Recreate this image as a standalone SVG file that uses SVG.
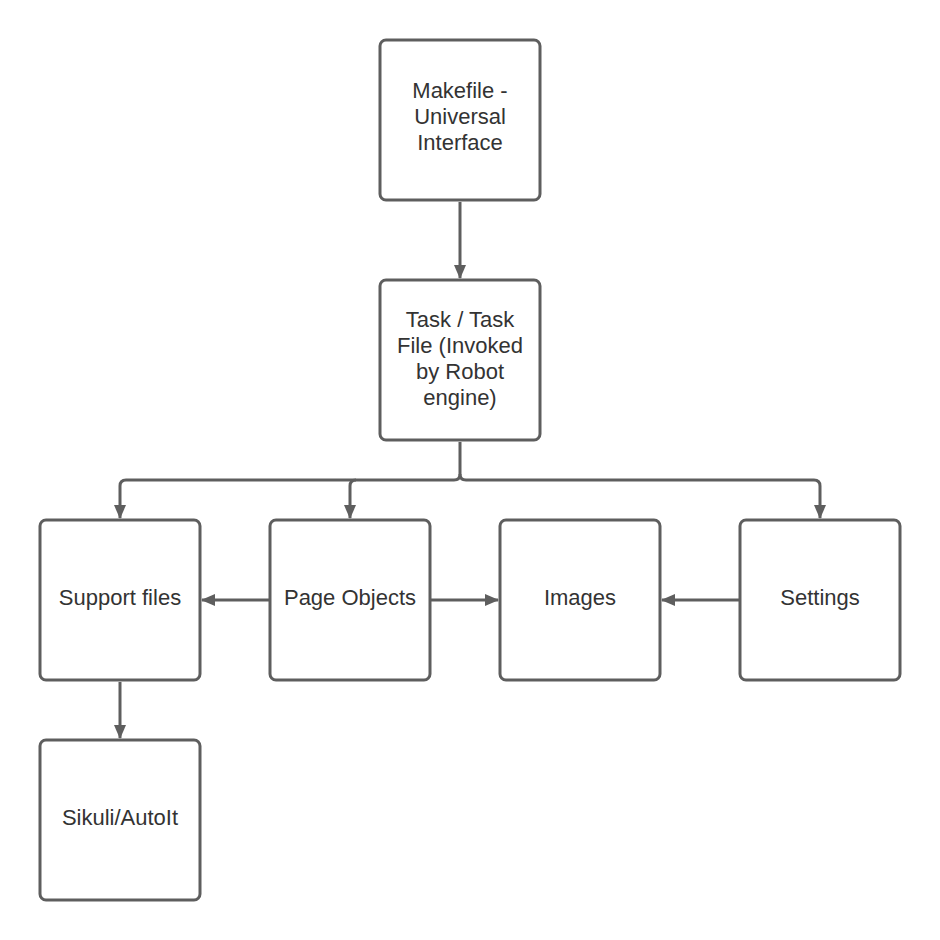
<svg xmlns="http://www.w3.org/2000/svg" width="940" height="940" viewBox="0 0 940 940">
  <style>
    .box { fill: #ffffff; stroke: #5e5e5e; stroke-width: 3; }
    .lbl { font-family: "Liberation Sans", Arial, sans-serif; font-size: 22px; fill: #333333; text-anchor: middle; }
    .edge { fill: none; stroke: #5e5e5e; stroke-width: 3; }
  </style>
  <defs>
    <marker id="arrow" viewBox="0 0 14 12" refX="13" refY="6" markerWidth="14" markerHeight="12" markerUnits="userSpaceOnUse" orient="auto">
      <path d="M0,0 L14,6 L0,12 Z" fill="#5e5e5e"/>
    </marker>
  </defs>
  <rect width="940" height="940" fill="#ffffff"/>

  <g id="connectors">
    <path class="edge" d="M460,202 L460,278" marker-end="url(#arrow)"/>
    <path class="edge" d="M460,442 L460,474 Q460,480 454,480 L126,480 Q120,480 120,486 L120,518" marker-end="url(#arrow)"/>
    <path class="edge" d="M356,480 Q350,480 350,486 L350,518" marker-end="url(#arrow)"/>
    <path class="edge" d="M460,474 Q460,480 466,480 L814,480 Q820,480 820,486 L820,518" marker-end="url(#arrow)"/>
    <path class="edge" d="M269,600 L202,600" marker-end="url(#arrow)"/>
    <path class="edge" d="M431,600 L498,600" marker-end="url(#arrow)"/>
    <path class="edge" d="M739,600 L662,600" marker-end="url(#arrow)"/>
    <path class="edge" d="M120,682 L120,738" marker-end="url(#arrow)"/>
  </g>

  <g id="makefile">
    <rect class="box" x="380" y="40" width="160" height="160" rx="6"/>
    <text class="lbl" x="460" y="98">Makefile -</text>
    <text class="lbl" x="460" y="124">Universal</text>
    <text class="lbl" x="460" y="150">Interface</text>
  </g>

  <g id="task">
    <rect class="box" x="380" y="280" width="160" height="160" rx="6"/>
    <text class="lbl" x="460" y="327">Task / Task</text>
    <text class="lbl" x="460" y="353">File (Invoked</text>
    <text class="lbl" x="460" y="379">by Robot</text>
    <text class="lbl" x="460" y="405">engine)</text>
  </g>

  <g id="support-files">
    <rect class="box" x="40" y="520" width="160" height="160" rx="6"/>
    <text class="lbl" x="120" y="605">Support files</text>
  </g>

  <g id="page-objects">
    <rect class="box" x="270" y="520" width="160" height="160" rx="6"/>
    <text class="lbl" x="350" y="605">Page Objects</text>
  </g>

  <g id="images">
    <rect class="box" x="500" y="520" width="160" height="160" rx="6"/>
    <text class="lbl" x="580" y="605">Images</text>
  </g>

  <g id="settings">
    <rect class="box" x="740" y="520" width="160" height="160" rx="6"/>
    <text class="lbl" x="820" y="605">Settings</text>
  </g>

  <g id="sikuli-autoit">
    <rect class="box" x="40" y="740" width="160" height="160" rx="6"/>
    <text class="lbl" x="120" y="825">Sikuli/AutoIt</text>
  </g>
</svg>
